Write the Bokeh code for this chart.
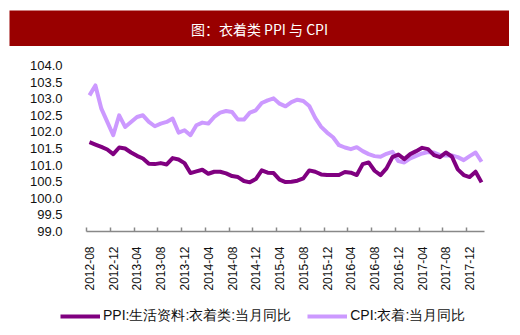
import pandas as pd
from bokeh.plotting import figure
from bokeh.layouts import column
from bokeh.models import (Range1d, FixedTicker, NumeralTickFormatter, Legend,
                          LegendItem, Label)
from bokeh.embed import file_html
from bokeh.resources import INLINE

# ---- data ----
months = list(pd.date_range("2012-08", periods=67, freq="MS").strftime("%Y-%m"))

ppi = [101.69, 101.62, 101.55, 101.47, 101.33, 101.53, 101.50, 101.38, 101.28, 101.20,
       101.04, 101.03, 101.06, 101.02, 101.21, 101.17, 101.06, 100.76, 100.81, 100.86,
       100.74, 100.80, 100.80, 100.75, 100.67, 100.64, 100.52, 100.48, 100.58, 100.84,
       100.77, 100.76, 100.56, 100.49, 100.50, 100.53, 100.60, 100.84, 100.80, 100.72,
       100.70, 100.70, 100.70, 100.79, 100.77, 100.70, 101.03, 101.08, 100.83, 100.70,
       100.90, 101.24, 101.32, 101.18, 101.33, 101.42, 101.52, 101.48, 101.30, 101.24,
       101.38, 101.26, 100.87, 100.70, 100.64, 100.80, 100.48]

cpi = [103.10, 103.40, 102.70, 102.30, 101.90, 102.50, 102.15, 102.30, 102.45, 102.50,
       102.30, 102.17, 102.25, 102.30, 102.40, 101.98, 102.05, 101.90, 102.20, 102.28,
       102.25, 102.45, 102.58, 102.63, 102.60, 102.37, 102.37, 102.58, 102.65, 102.87,
       102.95, 103.01, 102.85, 102.77, 102.90, 102.97, 102.93, 102.78, 102.42, 102.15,
       101.98, 101.84, 101.60, 101.53, 101.48, 101.54, 101.42, 101.33, 101.27, 101.25,
       101.34, 101.40, 101.12, 101.08, 101.20, 101.28, 101.35, 101.39, 101.38, 101.30,
       101.29, 101.29, 101.24, 101.15, 101.27, 101.38, 101.10]

y_ticks = [99.0, 99.5, 100.0, 100.5, 101.0, 101.5, 102.0, 102.5, 103.0, 103.5, 104.0]
y_min, y_max = 99.0, 104.0
label_every = 4

title_text = "图：衣着类 PPI 与 CPI"
ppi_name = "PPI:生活资料:衣着类:当月同比"
cpi_name = "CPI:衣着:当月同比"

# ---- layout constants (pixels) ----
W, H_TITLE, H_MAIN = 520, 46, 289
PLOT_L, PLOT_R = 86, 484          # axis extent in x (canvas px)
PLOT_T, PLOT_B = 19, 185          # y_max / y_min positions (canvas px, from top)
FONT = "Liberation Sans"

# ---- derived ----
xs = list(range(len(months)))
label_pos = xs[::label_every]
boundaries = [i - 0.5 for i in label_pos]
x_lo, x_hi = -0.5, len(months) - 0.5
ppx = (PLOT_R - PLOT_L) / (x_hi - x_lo)
ppy = (PLOT_B - PLOT_T) / (y_max - y_min)
x_range = Range1d(x_lo - PLOT_L / ppx, x_hi + (W - PLOT_R) / ppx)
y_range = Range1d(y_min - (H_MAIN - PLOT_B) / ppy, y_max + PLOT_T / ppy)

# ---- title bar ----
t = figure(width=500, height=36, x_range=Range1d(0, 1), y_range=Range1d(0, 1),
           output_backend="svg", toolbar_location=None,
           x_axis_type=None, y_axis_type=None,
           min_border_left=0, min_border_right=0, min_border_top=0, min_border_bottom=0,
           background_fill_color="#990000", border_fill_color="#990000",
           outline_line_color=None, frame_align=False, margin=(10, 11, 0, 9))
t.add_layout(Label(x=0.5, y=0.5, text=title_text, text_align="center",
                   text_baseline="middle", text_color="white",
                   text_font_size="14px", text_font="Noto Sans CJK SC"))

# ---- main chart ----
p = figure(width=W, height=H_MAIN, x_range=x_range, y_range=y_range,
           output_backend="svg", toolbar_location=None,
           min_border_left=0, min_border_right=0, min_border_top=0, min_border_bottom=0,
           border_fill_color="white", background_fill_color="white",
           outline_line_color=None, frame_align=False)
p.title.visible = False
p.grid.visible = False

r_cpi = p.line(xs, cpi, line_color="#CC99FF", line_width=4, line_join="round")
r_ppi = p.line(xs, ppi, line_color="#800080", line_width=4, line_join="round")

xa = p.xaxis[0]
xa.fixed_location = y_min
xa.bounds = (x_lo, x_hi)
xa.ticker = FixedTicker(ticks=label_pos, minor_ticks=boundaries)
xa.major_label_overrides = {i: months[i] for i in label_pos}
xa.major_label_orientation = 3.14159265 / 2
xa.major_tick_in = 0
xa.major_tick_out = 0
xa.minor_tick_in = 4
xa.minor_tick_out = 0
xa.minor_tick_line_color = "#888888"
xa.minor_tick_line_width = 1.5
xa.axis_line_color = "#888888"
xa.axis_line_width = 1.5
xa.major_label_standoff = 15
xa.major_label_text_font = FONT
xa.major_label_text_font_size = "12px"
xa.major_label_text_color = "#111111"

ya = p.yaxis[0]
ya.fixed_location = x_lo
ya.ticker = FixedTicker(ticks=y_ticks)
ya.formatter = NumeralTickFormatter(format="0.0")
ya.axis_line_color = None
ya.major_tick_line_color = None
ya.minor_tick_line_color = None
ya.major_label_standoff = 18
ya.major_label_text_font = FONT
ya.major_label_text_font_size = "13px"
ya.major_label_text_color = "#111111"

legend = Legend(items=[LegendItem(label=ppi_name, renderers=[r_ppi]),
                       LegendItem(label=cpi_name, renderers=[r_cpi])],
                location=(60, 10), orientation="horizontal",
                padding=0, margin=0, spacing=16, glyph_width=40, glyph_height=14,
                label_height=14, label_standoff=3,
                label_text_font=FONT, label_text_font_size="14px",
                label_text_color="#111111",
                border_line_color=None, background_fill_alpha=0)
p.add_layout(legend)

layout = column(t, p, spacing=0)
open("out.html", "w").write(file_html(layout, INLINE))
